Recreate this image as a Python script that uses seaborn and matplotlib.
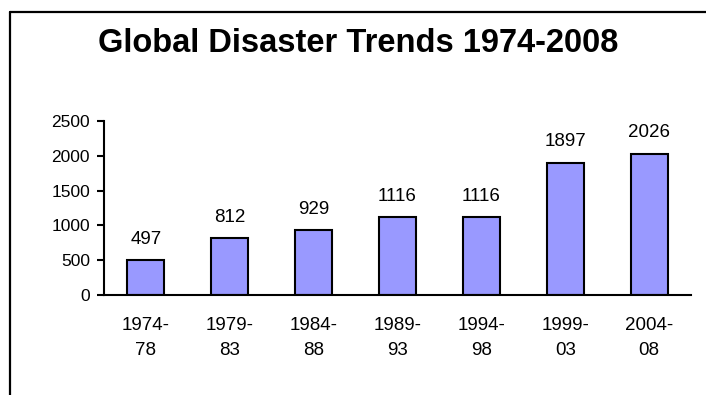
import matplotlib
matplotlib.use("Agg")
import matplotlib.pyplot as plt
from matplotlib.lines import Line2D
import seaborn as sns
import pandas as pd
import numpy as np

periods = ["1974-\n78", "1979-\n83", "1984-\n88", "1989-\n93", "1994-\n98", "1999-\n03", "2004-\n08"]
disasters = [497, 812, 929, 1116, 1116, 1897, 2026]
y_ticks = [0, 500, 1000, 1500, 2000, 2500]

df = pd.DataFrame({"period": periods, "disasters": disasters})

sns.set_style("white")
plt.rcParams["font.family"] = ["Liberation Sans", "DejaVu Sans"]
plt.rcParams["text.color"] = "black"
plt.rcParams["xtick.color"] = "black"
plt.rcParams["ytick.color"] = "black"

W, H = 706, 395
fig = plt.figure(figsize=(W / 100, H / 100), dpi=100)
ax = fig.add_axes([104 / W, 1 - 295 / H, (691 - 104) / W, (295 - 121) / H])

sns.barplot(data=df, x="period", y="disasters", ax=ax, color="#9999FF",
            saturation=1, width=0.44, edgecolor="black", linewidth=1.5)

for i, v in enumerate(disasters):
    ax.annotate(str(v), xy=(i, v), xytext=(0, 12), textcoords="offset points",
                ha="center", va="baseline", fontsize=13.5, color="black")

ax.set_xlim(-0.5, len(periods) - 0.5)
ax.set_ylim(0, 2500)
ax.set_yticks(y_ticks)
ax.set_yticklabels([str(t) for t in y_ticks], fontsize=12.5, color="black")
ax.set_xticks(range(len(periods)))
ax.set_xticklabels(periods, fontsize=13.5, linespacing=1.6, color="black")
ax.set_xticks(np.arange(-0.5, len(periods)), minor=True)
ax.tick_params(axis="x", which="major", length=0, pad=16)
ax.tick_params(axis="x", which="minor", length=6, width=1.5, direction="out", color="black")
ax.tick_params(axis="y", length=5, width=1.5, direction="out", color="black", pad=5, left=True)
ax.set_xlabel("")
ax.set_ylabel("")

for side in ("top", "right"):
    ax.spines[side].set_visible(False)
for side in ("left", "bottom"):
    ax.spines[side].set_color("black")
    ax.spines[side].set_linewidth(1.5)

fig.text(358 / W, 1 - 43 / H, "Global Disaster Trends 1974-2008", ha="center", va="center",
         fontsize=23.5, fontweight="bold", color="black")

# Frame around the chart area
fig.add_artist(Line2D([10 / W, 1], [1 - 12 / H, 1 - 12 / H], color="black", linewidth=1.6))
fig.add_artist(Line2D([10 / W, 10 / W], [0, 1 - 12 / H], color="black", linewidth=1.6))

fig.savefig("out.png", dpi=100)
